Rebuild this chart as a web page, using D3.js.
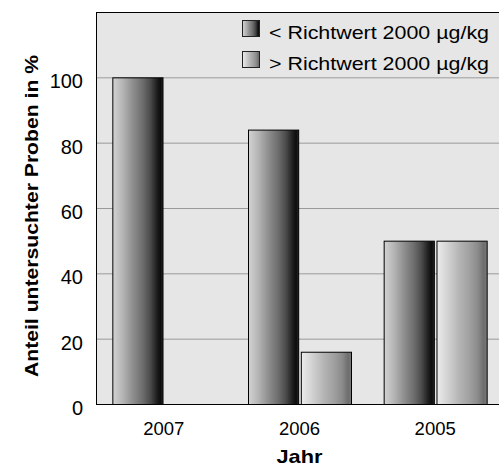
<!DOCTYPE html>
<html>
<head>
<meta charset="utf-8">
<script src="https://cdn.jsdelivr.net/npm/d3@7"></script>
<style>
  html, body { margin: 0; padding: 0; background: #fff; }
  svg { display: block; font-family: "Liberation Sans", Arial, Helvetica, sans-serif; }
</style>
</head>
<body>
<svg id="chart" width="499" height="469"></svg>
<script>
// Share of samples below / above the 2000 µg/kg guideline, by year
const years = ["2007", "2006", "2005"];
const seriesNames = ["< Richtwert 2000 µg/kg", "> Richtwert 2000 µg/kg"];
const belowValues = [100, 84, 50];
const aboveValues = [0, 16, 50];
const yTicks = [0, 20, 40, 60, 80, 100];
const yLabel = "Anteil untersuchter Proben in %";
const xLabel = "Jahr";

const svg = d3.select("#chart");
const x0 = 96, x1 = 503;
const yTop = 12, yBot = 404;

const x = d3.scaleBand().domain(years).range([x0, x1]);
const xs = d3.scaleBand().domain([0, 1]).range([0, 103]).paddingInner(0.05);
const y = d3.scaleLinear().domain([0, 120]).range([yBot, yTop]);

// gradients for the cylinder-like bars
const defs = svg.append("defs");
function grad(id, stops) {
  const g = defs.append("linearGradient").attr("id", id)
    .attr("x1", "0%").attr("x2", "100%").attr("y1", "0%").attr("y2", "0%");
  stops.forEach(([o, c]) => g.append("stop").attr("offset", o).attr("stop-color", c));
}
grad("gDark", [["0%", "#d2d2d2"], ["20%", "#b4b4b4"], ["40%", "#8e8e8e"], ["60%", "#6c6c6c"], ["75%", "#4a4a4a"], ["88%", "#1e1e1e"], ["95%", "#0c0c0c"], ["100%", "#2a2a2a"]]);
grad("gLight", [["0%", "#ececec"], ["20%", "#d4d4d4"], ["45%", "#b4b4b4"], ["65%", "#a0a0a0"], ["82%", "#8a8a8a"], ["93%", "#6e6e6e"], ["100%", "#7a7a7a"]]);
const fills = ["url(#gDark)", "url(#gLight)"];

// plot background
svg.append("rect").attr("x", x0).attr("y", yTop).attr("width", x1 - x0).attr("height", yBot - yTop)
  .attr("fill", "#e6e6e6");

// grid lines
svg.append("g").selectAll("line").data(yTicks.filter(d => d > 0)).join("line")
  .attr("x1", x0).attr("x2", x1).attr("y1", d => y(d) + 0.5).attr("y2", d => y(d) + 0.5)
  .attr("stroke", "#9a9a9a").attr("stroke-width", 1);

// bars
const rows = years.map((yr, i) => ({ year: yr, vals: [belowValues[i], aboveValues[i]] }));
const groups = svg.append("g").selectAll("g").data(rows).join("g")
  .attr("transform", d => `translate(${x(d.year) + (x.bandwidth() - 103) / 2 + 0.5},0)`);
groups.selectAll("rect").data(d => d.vals.map((v, k) => ({ v, k }))).join("rect")
  .attr("x", d => xs(d.k))
  .attr("y", d => y(d.v) + 0.5)
  .attr("width", xs.bandwidth())
  .attr("height", d => Math.max(0, yBot - y(d.v)))
  .attr("fill", d => fills[d.k])
  .attr("stroke", "#000").attr("stroke-width", d => d.v > 0 ? 1 : 0);

// frame: top and left border, bottom axis line
svg.append("line").attr("x1", x0).attr("x2", x1).attr("y1", yTop + 0.5).attr("y2", yTop + 0.5).attr("stroke", "#000");
svg.append("line").attr("x1", x0 + 0.5).attr("x2", x0 + 0.5).attr("y1", yTop).attr("y2", yBot + 1).attr("stroke", "#000");
svg.append("line").attr("x1", x0).attr("x2", x1).attr("y1", yBot + 0.5).attr("y2", yBot + 0.5).attr("stroke", "#000");

// y axis labels
const yAxis = d3.axisLeft(y).tickValues(yTicks).tickSize(0).tickPadding(13);
const gy = svg.append("g").attr("transform", `translate(${x0},0)`).call(yAxis);
gy.select(".domain").remove();
gy.selectAll("text").attr("font-size", 20).attr("fill", "#000").attr("dy", "0.52em")
  .attr("font-family", "Liberation Sans, Arial, sans-serif");

// x axis labels
const xAxis = d3.axisBottom(x).tickSize(0).tickPadding(18);
const gx = svg.append("g").attr("transform", `translate(0,${yBot})`).call(xAxis);
gx.select(".domain").remove();
gx.selectAll("text").attr("font-size", 18.5).attr("fill", "#000").attr("dy", "0.71em")
  .attr("font-family", "Liberation Sans, Arial, sans-serif");

// axis titles
svg.append("text").attr("x", (x0 + x1) / 2).attr("y", 463).attr("text-anchor", "middle")
  .attr("font-size", 19).attr("font-weight", "bold")
  .attr("textLength", 46).attr("lengthAdjust", "spacingAndGlyphs").text(xLabel);
svg.append("text").attr("transform", `translate(38,216) rotate(-90)`)
  .attr("text-anchor", "middle").attr("font-size", 18).attr("font-weight", "bold")
  .attr("textLength", 322).attr("lengthAdjust", "spacingAndGlyphs").text(yLabel);

// legend
const legend = svg.append("g").selectAll("g").data(seriesNames).join("g")
  .attr("transform", (d, i) => `translate(242.5,${20.5 + i * 31})`);
legend.append("rect").attr("width", 17).attr("height", 16)
  .attr("fill", (d, i) => fills[i]).attr("stroke", "#222").attr("stroke-width", 1);
legend.append("text").attr("x", 26.5).attr("y", 18.5).attr("font-size", 18.5).attr("fill", "#000")
  .attr("textLength", 220).attr("lengthAdjust", "spacingAndGlyphs").text(d => d);
</script>
</body>
</html>
